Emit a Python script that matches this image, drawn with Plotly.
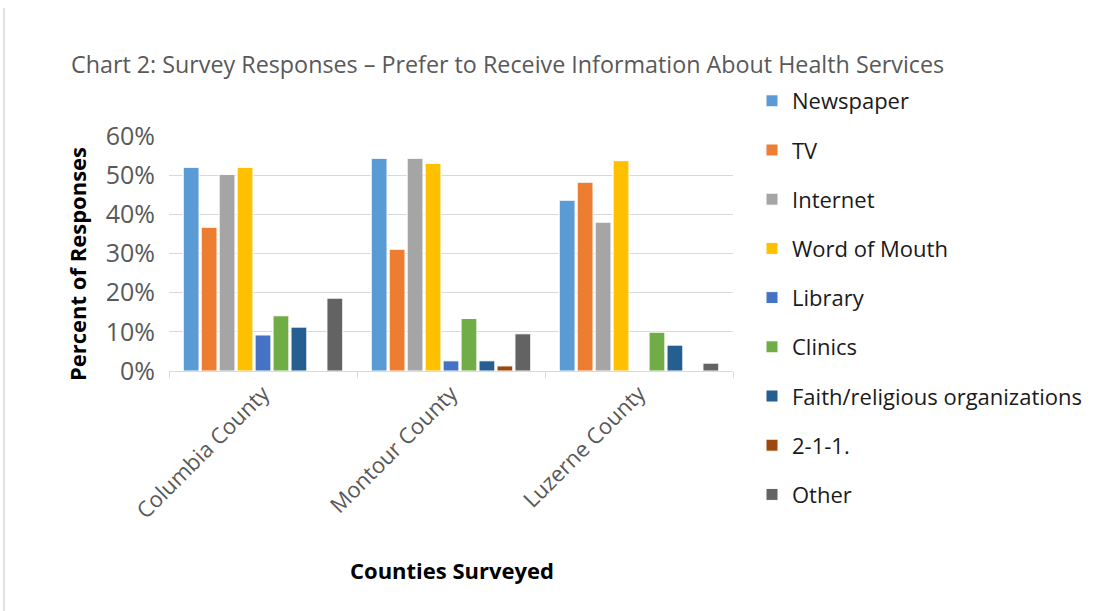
import plotly.graph_objects as go

counties = ["Columbia County", "Montour County", "Luzerne County"]

newspaper = [52.0, 54.3, 43.6]
tv = [36.7, 31.1, 48.2]
internet = [50.2, 54.3, 38.0]
word_of_mouth = [52.0, 53.0, 53.7]
library = [9.2, 2.6, 0.0]
clinics = [14.1, 13.4, 9.9]
faith = [11.2, 2.6, 6.6]
two_one_one = [0.0, 1.3, 0.0]
other = [18.6, 9.5, 2.0]

series_names = ["Newspaper", "TV", "Internet", "Word of Mouth", "Library",
                "Clinics", "Faith/religious organizations", "2-1-1.", "Other"]
series_values = [newspaper, tv, internet, word_of_mouth, library,
                 clinics, faith, two_one_one, other]
series_colors = ["#5B9BD5", "#ED7D31", "#A5A5A5", "#FFC000", "#4472C4",
                 "#70AD47", "#255E91", "#9E480E", "#636363"]

y_ticks = [0, 10, 20, 30, 40, 50, 60]
y_tick_text = ["0%", "10%", "20%", "30%", "40%", "50%", "60%"]

FONT = "Open Sans"
W, H = 1102, 611
L, R, T, B = 169, 733, 136, 371  # plot area in pixels

fig = go.Figure()
for name, vals, col in zip(series_names, series_values, series_colors):
    fig.add_trace(go.Bar(
        x=counties, y=vals, name=name, legendgroup=name,
        marker=dict(color=col, line=dict(color="white", width=1)),
    ))

def px_x(px):
    return (px - L) / (R - L)

def px_y(py):
    return (B - py) / (B - T)

fig.update_layout(
    width=W, height=H,
    margin=dict(l=L, r=W - R, t=T, b=H - B),
    paper_bgcolor="white", plot_bgcolor="white",
    barmode="group", bargap=0.14, bargroupgap=0.12,
    font=dict(family=FONT, color="#595959", size=22),
    showlegend=True,
    legend=dict(
        x=px_x(752), y=px_y(80), xanchor="left", yanchor="top",
        font=dict(family=FONT, size=22, color="#1a1a1a"),
        tracegroupgap=17.6, itemwidth=30, bgcolor="rgba(0,0,0,0)",
        maxheight=1,
    ),
    xaxis=dict(
        type="category", tickangle=-45, tickson="boundaries",
        ticks="outside", ticklen=6, tickcolor="#d9d9d9",
        showline=True, linecolor="#d9d9d9", linewidth=1,
        tickfont=dict(family=FONT, size=22, color="#595959"),
        showgrid=False,
    ),
    yaxis=dict(
        range=[0, 60], tickvals=y_ticks, ticktext=y_tick_text,
        showgrid=True, gridcolor="#d9d9d9", gridwidth=1,
        zeroline=False, showline=False,
        tickfont=dict(family=FONT, size=25, color="#595959"),
        ticklabelstandoff=13,
    ),
    annotations=[
        dict(text="Chart 2: Survey Responses \u2013 Prefer to Receive Information About Health Services",
             xref="paper", yref="paper", x=px_x(69), y=px_y(64),
             xanchor="left", yanchor="middle", showarrow=False,
             font=dict(family=FONT, size=23.3, color="#595959")),
        dict(text="<b>Percent of Responses</b>",
             xref="paper", yref="paper", x=px_x(77), y=px_y(264),
             xanchor="center", yanchor="middle", textangle=-90, showarrow=False,
             font=dict(family=FONT, size=22, color="#000000")),
        dict(text="<b>Counties Surveyed</b>",
             xref="paper", yref="paper", x=px_x(452), y=px_y(570),
             xanchor="center", yanchor="middle", showarrow=False,
             font=dict(family=FONT, size=22, color="#000000")),
    ],
    shapes=[
        dict(type="line", xref="paper", yref="paper",
             x0=px_x(4), x1=px_x(4), y0=px_y(8), y1=px_y(611),
             line=dict(color="#d9d9d9", width=1.5)),
    ],
)

fig.write_html("out.html")
